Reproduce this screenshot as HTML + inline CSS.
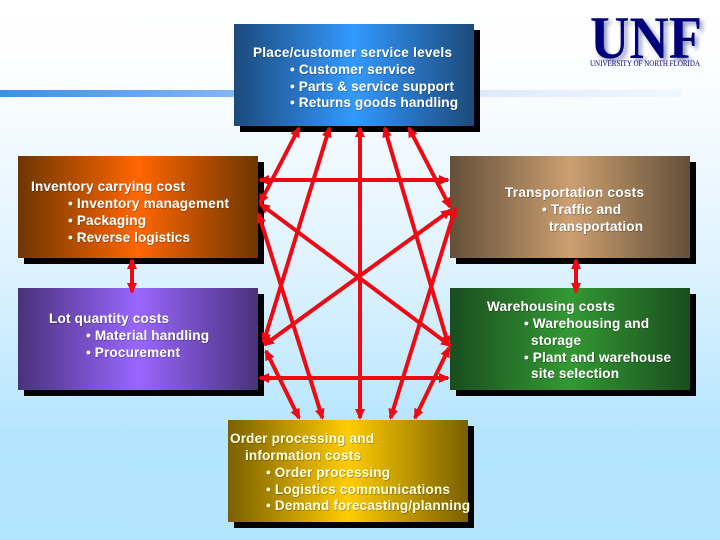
<!DOCTYPE html>
<html><head><meta charset="utf-8"><style>
html,body{margin:0;padding:0;width:720px;height:540px;overflow:hidden;background:#b4e5fe}
svg{display:block}
text{font-family:"Liberation Sans",sans-serif;font-weight:bold;font-size:13.6px;fill:#fff;filter:url(#ts)}
text.y{fill:#ffffe0}
text.logo{font-family:"Liberation Serif",serif;fill:#00007a}
line{stroke:#ee0a12;stroke-width:4;fill:none;marker-start:url(#a);marker-end:url(#a)}
</style></head><body>
<svg width="720" height="540" viewBox="0 0 720 540" xmlns="http://www.w3.org/2000/svg">
<defs>
<linearGradient id="bg" x1="0" y1="0" x2="0" y2="1"><stop offset="0" stop-color="#fff"/><stop offset=".12" stop-color="#fdfeff"/><stop offset=".5" stop-color="#def2fe"/><stop offset=".8" stop-color="#b5e5fe"/><stop offset="1" stop-color="#b3e4fe"/></linearGradient>
<linearGradient id="st"><stop offset="0" stop-color="#3b8fe9"/><stop offset=".35" stop-color="#86b6f5"/><stop offset=".7" stop-color="#dbeafb"/><stop offset="1" stop-color="#f0f8fe"/></linearGradient>
<linearGradient id="g1"><stop offset="0" stop-color="#1c4a7c"/><stop offset=".5" stop-color="#3399ff"/><stop offset="1" stop-color="#1c4a7c"/></linearGradient>
<linearGradient id="g2"><stop offset="0" stop-color="#6e3600"/><stop offset=".5" stop-color="#ff6600"/><stop offset="1" stop-color="#6e3600"/></linearGradient>
<linearGradient id="g3"><stop offset="0" stop-color="#63503a"/><stop offset=".5" stop-color="#cc9f70"/><stop offset="1" stop-color="#63503a"/></linearGradient>
<linearGradient id="g4"><stop offset="0" stop-color="#49327a"/><stop offset=".5" stop-color="#9966ff"/><stop offset="1" stop-color="#49327a"/></linearGradient>
<linearGradient id="g5"><stop offset="0" stop-color="#1a4d1f"/><stop offset=".5" stop-color="#339933"/><stop offset="1" stop-color="#1a4d1f"/></linearGradient>
<linearGradient id="g6"><stop offset="0" stop-color="#7a6000"/><stop offset=".5" stop-color="#ffcc00"/><stop offset="1" stop-color="#7a6000"/></linearGradient>
<marker id="a" markerUnits="userSpaceOnUse" markerWidth="13" markerHeight="12" refX="9" refY="6" orient="auto-start-reverse"><path d="M0,1L11,6L0,11Z" fill="#ee0a12"/></marker>
<filter id="ts" x="-5%" y="-30%" width="110%" height="160%"><feDropShadow dx=".5" dy=".5" stdDeviation=".3" flood-color="#000" flood-opacity=".55"/></filter>
<filter id="lb" x="-10%" y="-10%" width="120%" height="120%"><feGaussianBlur stdDeviation="2"/></filter>
</defs>
<rect width="720" height="540" fill="url(#bg)"/>
<rect x="0" y="90" width="682" height="7" fill="url(#st)"/>

<!-- logo -->
<text class="logo" x="593" y="61" textLength="112" lengthAdjust="spacingAndGlyphs" style="font-size:60px;fill:#8a93b8;filter:url(#lb)">UNF</text>
<text class="logo" x="590" y="58" textLength="112" lengthAdjust="spacingAndGlyphs" style="font-size:60px;filter:none">UNF</text>
<text class="logo" x="590" y="66" textLength="110" lengthAdjust="spacingAndGlyphs" style="font-size:8px;font-weight:normal;filter:none">UNIVERSITY OF NORTH FLORIDA</text>

<!-- shadows -->
<g fill="#000">
<rect x="240" y="30" width="240" height="102"/>
<rect x="24" y="162" width="240" height="102"/>
<rect x="456" y="162" width="240" height="102"/>
<rect x="24" y="294" width="240" height="102"/>
<rect x="456" y="294" width="240" height="102"/>
<rect x="234" y="426" width="240" height="102"/>
</g>
<rect x="234" y="24" width="240" height="102" fill="url(#g1)"/>
<rect x="18" y="156" width="240" height="102" fill="url(#g2)"/>
<rect x="450" y="156" width="240" height="102" fill="url(#g3)"/>
<rect x="18" y="288" width="240" height="102" fill="url(#g4)"/>
<rect x="450" y="288" width="240" height="102" fill="url(#g5)"/>
<rect x="228" y="420" width="240" height="102" fill="url(#g6)"/>

<!-- connectors -->
<line x1="299" y1="128" x2="260" y2="203"/>
<line x1="329.4" y1="128" x2="263.6" y2="342"/>
<line x1="360" y1="128" x2="360" y2="418"/>
<line x1="384.6" y1="128" x2="448.4" y2="345"/>
<line x1="409" y1="128" x2="450" y2="207"/>
<line x1="260" y1="180" x2="448" y2="180"/>
<line x1="260" y1="378" x2="448" y2="378"/>
<line x1="260.6" y1="204.2" x2="450.4" y2="345.8"/>
<line x1="450.4" y1="210.2" x2="264.6" y2="344.8"/>
<line x1="258.6" y1="214" x2="322.4" y2="418"/>
<line x1="266" y1="351" x2="299" y2="418"/>
<line x1="455.4" y1="208" x2="390.6" y2="418"/>
<line x1="449" y1="348" x2="415" y2="418"/>
<line x1="132" y1="260" x2="132" y2="292"/>
<line x1="576" y1="260" x2="576" y2="292"/>

<!-- top box text -->
<text x="253" y="57" textLength="199">Place/customer service levels</text>
<text x="290" y="74" textLength="125">• Customer service</text>
<text x="290" y="91" textLength="164">• Parts &amp; service support</text>
<text x="290" y="107" textLength="168">• Returns goods handling</text>
<!-- inventory -->
<text x="31" y="191" textLength="154">Inventory carrying cost</text>
<text x="68" y="208" textLength="161">• Inventory management</text>
<text x="68" y="225" textLength="78">• Packaging</text>
<text x="68" y="242" textLength="122">• Reverse logistics</text>
<!-- transportation -->
<text x="505" y="197" textLength="139">Transportation costs</text>
<text x="542" y="214" textLength="79">• Traffic and</text>
<text x="549" y="231" textLength="94">transportation</text>
<!-- lot -->
<text x="49" y="323" textLength="120">Lot quantity costs</text>
<text x="86" y="340" textLength="123">• Material handling</text>
<text x="86" y="357" textLength="94">• Procurement</text>
<!-- warehousing -->
<text x="487" y="311" textLength="128">Warehousing costs</text>
<text x="524" y="328" textLength="125">• Warehousing and</text>
<text x="531" y="345" textLength="50">storage</text>
<text x="524" y="362" textLength="147">• Plant and warehouse</text>
<text x="531" y="378" textLength="88">site selection</text>
<!-- order -->
<text class="y" x="230" y="443" textLength="144">Order processing and</text>
<text class="y" x="245" y="460" textLength="116">information costs</text>
<text class="y" x="266" y="477" textLength="124">• Order processing</text>
<text class="y" x="266" y="494" textLength="184">• Logistics communications</text>
<text class="y" x="266" y="510" textLength="204">• Demand forecasting/planning</text>
</svg>
</body></html>
